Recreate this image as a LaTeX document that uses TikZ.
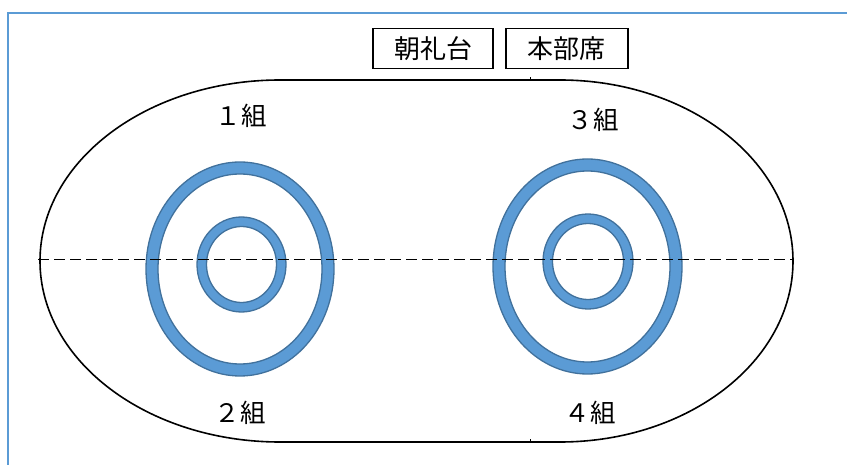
\documentclass[tikz,border=0pt]{standalone}
\usepackage{fontspec}
\newfontfamily\jp{Noto Sans CJK JP}
\definecolor{frameblue}{HTML}{5B9BD5}
\definecolor{ringfill}{HTML}{5B9BD5}
\definecolor{ringedge}{HTML}{41719C}
\begin{document}
\begin{tikzpicture}[x=1pt,y=-1pt,
  lbl/.style={font=\jp\fontsize{25.5}{27}\selectfont, inner sep=0pt},
  boxlbl/.style={draw, line width=1.6pt, minimum height=40pt, font=\jp\fontsize{26}{28}\selectfont, inner sep=0pt},
  ring/.style={fill=ringfill, draw=ringedge, line width=1.3pt, even odd rule},
  track/.style={line width=1.6pt}]
\useasboundingbox (0,0) rectangle (847,465);
% frame
\draw[frameblue, line width=2pt] (8,465) -- (8,13) -- (847,13);
% track
\draw[track] (280,80) -- (560,80) arc[start angle=-90, end angle=90, x radius=233, y radius=181]
  -- (280,442) arc[start angle=90, end angle=270, x radius=240, y radius=181] -- cycle;
\draw[line width=1pt] (530,80) -- (530,77) (530,442) -- (530,439);
% rings
\path[ring] (240,269) ellipse[x radius=94, y radius=107] (240,269) ellipse[x radius=82, y radius=95];
\path[ring] (241.5,264.5) ellipse[x radius=44.5, y radius=47.5] (241.5,264.5) ellipse[x radius=35, y radius=38];
\path[ring] (587.5,266.5) ellipse[x radius=94.5, y radius=107.5] (587.5,266.5) ellipse[x radius=82.5, y radius=95.5];
\path[ring] (588,261.5) ellipse[x radius=45, y radius=47.5] (588,261.5) ellipse[x radius=35.5, y radius=38];
% dashed axis
\draw[dash pattern=on 11pt off 5pt, line width=1pt] (38,260) -- (793,260);
% labels
\node[lbl] (g1) at (241,116) {１組};
\node[lbl] (g3) at (593,120) {３組};
\node[lbl] (g2) at (240,413) {２組};
\node[lbl] (g4) at (590,413) {４組};
\node[boxlbl, minimum width=120pt] (chorei) at (433,48.5) {朝礼台};
\node[boxlbl, minimum width=122pt] (honbu) at (566.7,48.5) {本部席};
\end{tikzpicture}
\end{document}
